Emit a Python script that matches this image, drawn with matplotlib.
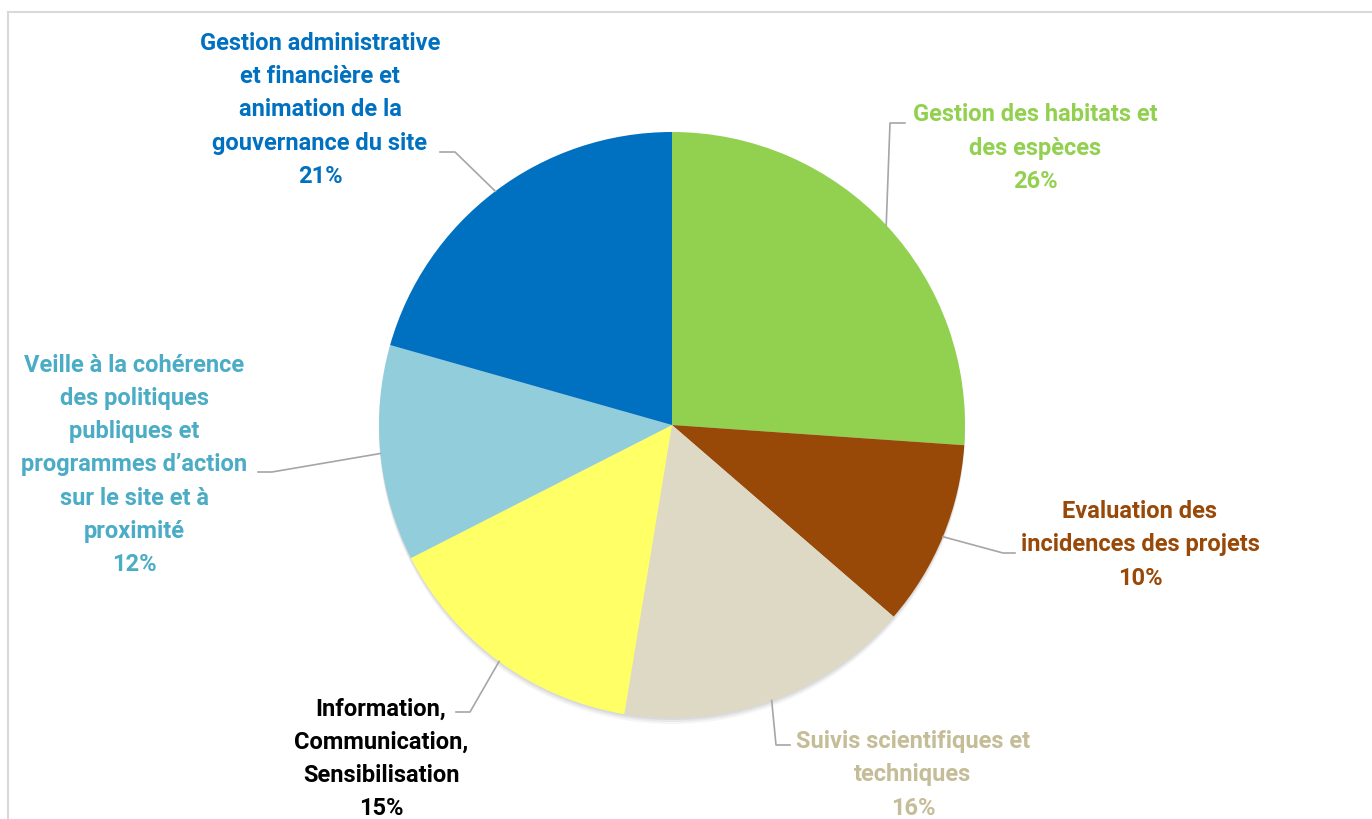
import numpy as np
import matplotlib.pyplot as plt
from matplotlib.lines import Line2D

# parts of the budget, clockwise from 12 o'clock (shares)
labels = [
    "Gestion des habitats et\ndes espèces",
    "Evaluation des\nincidences des projets",
    "Suivis scientifiques et\ntechniques",
    "Information,\nCommunication,\nSensibilisation",
    "Veille à la cohérence\ndes politiques\npubliques et\nprogrammes d\u2019action\nsur le site et à\nproximité",
    "Gestion administrative\net financière et\nanimation de la\ngouvernance du site",
]
values = [26.1, 10.25, 16.25, 14.9, 11.9, 20.6]
colors = ["#92D050", "#984807", "#DDD9C4", "#FFFF66", "#92CDDC", "#0070C0"]
text_colors = ["#92D050", "#984807", "#C4BD97", "#000000", "#4BACC6", "#0070C0"]

W, H = 1372, 819
fig = plt.figure(figsize=(W / 100, H / 100), dpi=100)
ax = fig.add_axes([0, 0, 1, 1])

cx, cy, r = 672, H - 425, 293

# faint shadow under the pie
for k, a in [(6, 0.04), (4, 0.05), (2, 0.06)]:
    ax.add_patch(plt.Circle((cx, cy - k), r, color="#000000", alpha=a, lw=0, zorder=0))

wedges, _ = ax.pie(values, colors=colors, startangle=90, counterclock=False,
                   center=(cx, cy), radius=r, frame=True,
                   wedgeprops=dict(linewidth=0))
ax.set_xlim(0, W)
ax.set_ylim(0, H)
ax.set_aspect("equal")
ax.axis("off")

# label block centres (image coords) and leader bends
label_pos = [(1035, 148), (1140, 545), (913, 775), (381, 759), (134, 465), (320, 110)]
bends = [
    [(890, 123), (905, 123)],
    [(1003, 553), (1015, 553)],
    [(776, 745), (790, 745)],
    [(470, 712), (456, 712)],
    [(272, 472), (258, 472)],
    [(455, 152), (440, 152)],
]

total = sum(values)
for w, lab, v, tc, pos, bend in zip(wedges, labels, values, text_colors, label_pos, bends):
    mid = np.deg2rad((w.theta1 + w.theta2) / 2)
    ex = cx + r * np.cos(mid)
    ey = cy + r * np.sin(mid)
    xs = [ex] + [b[0] for b in bend]
    ys = [ey] + [H - b[1] for b in bend]
    ax.plot(xs, ys, color="#A6A6A6", lw=1.2, zorder=3)
    ax.text(pos[0], H - pos[1], lab + "\n" + f"{100 * v / total:.0f}%", ha="center", va="center",
            color=tc, fontsize=17, fontweight="bold", family="Roboto",
            linespacing=1.57)

# chart frame (partly cropped)
fig.add_artist(Line2D([8 / W, 1], [1 - 12 / H, 1 - 12 / H], color="#D9D9D9", lw=1.5))
fig.add_artist(Line2D([8 / W, 8 / W], [0, 1 - 12 / H], color="#D9D9D9", lw=1.5))

fig.savefig("out.png", dpi=100)
